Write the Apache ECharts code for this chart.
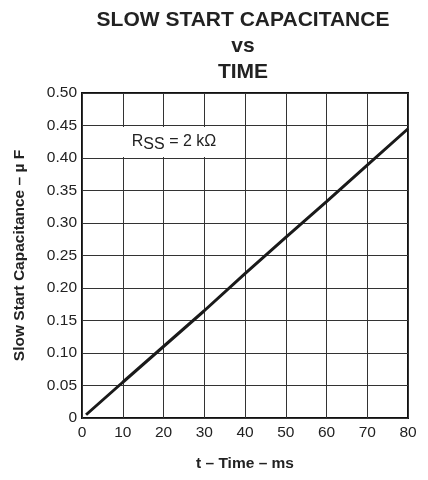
<!DOCTYPE html>
<html>
<head>
<meta charset="utf-8">
<script src="https://cdn.jsdelivr.net/npm/echarts@6/dist/echarts.min.js"></script>
<style>
  html, body { margin: 0; padding: 0; background: #fff; }
  #chart { width: 428px; height: 480px; }
</style>
</head>
<body>
<div id="chart"></div>
<script>
// time in ms, capacitance in uF
const timeMs = [1, 10, 20, 30, 40, 50, 60, 70, 80];
const capUF = [0.005, 0.055, 0.11, 0.165, 0.222, 0.278, 0.333, 0.389, 0.445];
const titleLines = ["SLOW START CAPACITANCE", "vs", "TIME"];

const FONT = "'Liberation Sans', Arial, Helvetica, sans-serif";
const chart = echarts.init(document.getElementById("chart"));

const option = {
  animation: false,
  backgroundColor: "#fff",
  grid: {
    left: 82,
    right: 20,
    top: 93,
    bottom: 62,
    show: true,
    borderColor: "#111",
    borderWidth: 2,
  },
  xAxis: {
    type: "value",
    min: 0,
    max: 80,
    interval: 10,
    name: "t – Time – ms",
    nameLocation: "middle",
    nameGap: 38,
    nameTextStyle: { fontFamily: FONT, fontWeight: "bold", fontSize: 15.5, color: "#222" },
    axisLine: { show: false },
    axisTick: { show: false },
    axisLabel: { fontFamily: FONT, fontSize: 15.5, color: "#222", margin: 7 },
    splitLine: { lineStyle: { color: "#333", width: 1 } },
  },
  yAxis: {
    type: "value",
    min: 0,
    max: 0.5,
    interval: 0.05,
    name: "Slow Start Capacitance – µ F",
    nameLocation: "middle",
    nameGap: 54,
    nameTextStyle: { fontFamily: FONT, fontWeight: "bold", fontSize: 15.5, color: "#222" },
    axisLine: { show: false },
    axisTick: { show: false },
    axisLabel: {
      fontFamily: FONT,
      fontSize: 15.5,
      color: "#222",
      margin: 5,
      formatter: (v) => (v === 0 ? "0" : v.toFixed(2)),
    },
    splitLine: { lineStyle: { color: "#333", width: 1 } },
  },
  graphic: [
    {
      type: "text",
      x: 243,
      y: 7,
      style: {
        text: titleLines.join("\n"),
        align: "center",
        fontFamily: FONT,
        fontWeight: "bold",
        fontSize: 21,
        lineHeight: 26,
        fill: "#222",
      },
    },
    {
      type: "rect",
      shape: { x: 120, y: 127, width: 108, height: 30 },
      style: { fill: "#fff" },
      z: 10,
    },
    {
      type: "text",
      x: 174,
      y: 142,
      z: 11,
      style: {
        text: "R{sub|SS} = 2 kΩ",
        align: "center",
        verticalAlign: "middle",
        fontFamily: FONT,
        fontSize: 16,
        fill: "#222",
        rich: {
          sub: { fontFamily: FONT, fontSize: 16, fill: "#222", padding: [6, 0, 0, 0] },
        },
      },
    },
  ],
  series: [
    {
      type: "line",
      data: timeMs.map((t, i) => [t, capUF[i]]),
      showSymbol: false,
      lineStyle: { color: "#1a1a1a", width: 3 },
      z: 5,
    },
  ],
};

chart.setOption(option);
</script>
</body>
</html>
